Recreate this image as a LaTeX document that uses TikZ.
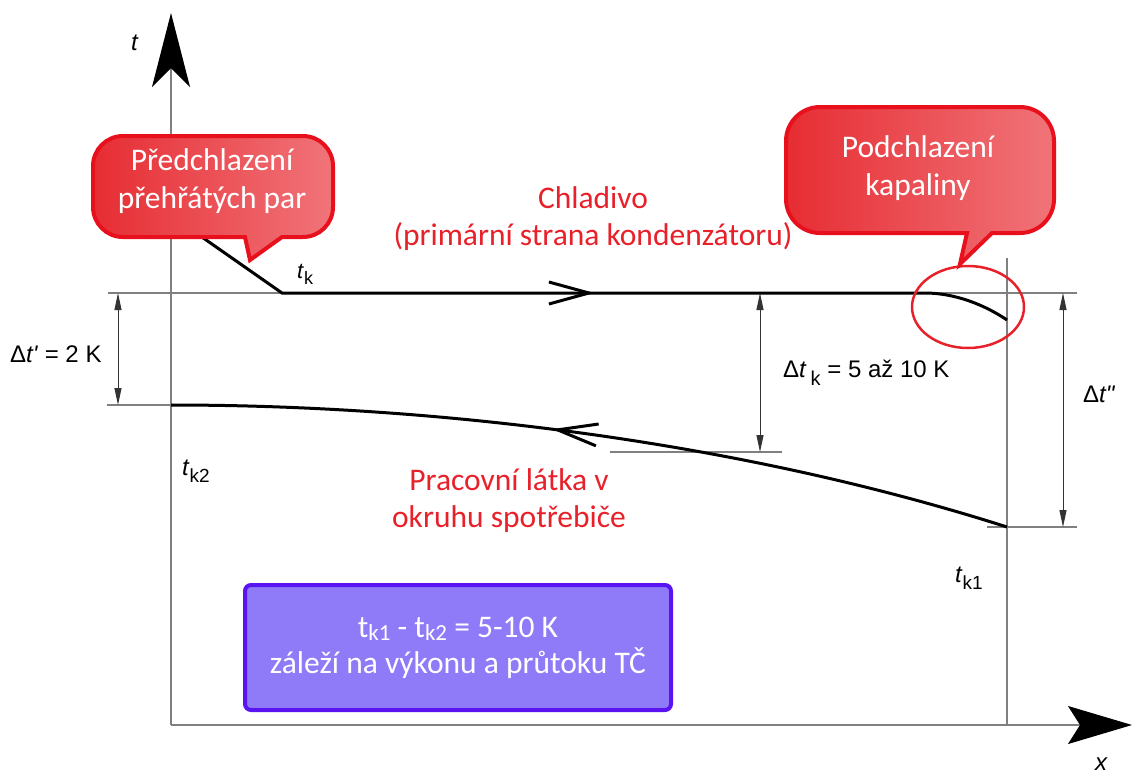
\documentclass[tikz,border=0pt]{standalone}
\usepackage{fontspec}
\setmainfont{Liberation Sans}
\newfontfamily\calfont{Carlito}
\usetikzlibrary{arrows.meta,decorations.markings}

\definecolor{guide}{HTML}{808080}
\definecolor{dimline}{HTML}{333333}
\definecolor{redtext}{HTML}{E8202A}
\definecolor{bubbleL}{HTML}{E62D33}
\definecolor{bubbleR}{HTML}{F07479}
\definecolor{bubbleEdge}{HTML}{E8101C}
\definecolor{noteFill}{HTML}{8F7BF8}
\definecolor{noteEdge}{HTML}{5A14F2}

% lowered, smaller subscript: #1 drop, #2 size, #3 text
\newcommand\subtxt[3]{\raisebox{-#1}{\fontsize{#2}{#2}\selectfont #3}}

\begin{document}
\begin{tikzpicture}[x=1pt,y=-1pt,
  guideline/.style={draw=guide,line width=1.2pt},
  curve/.style={draw=black,line width=3pt},
  dimarrow/.style={draw=dimline,line width=1pt,
    {Triangle[length=17pt,width=7pt]}-{Triangle[length=17pt,width=7pt]}},
  lbl/.style={inner sep=0pt,text=black},
  redlbl/.style={inner sep=0pt,text=redtext,align=center,
    font=\calfont\fontsize{31.5}{37}\selectfont},
  bubble/.style={draw=bubbleEdge,line width=4pt,left color=bubbleL,right color=bubbleR},
  bubbletext/.style={inner sep=0pt,text=white,align=center,
    font=\calfont\fontsize{31.5}{38}\selectfont},
  notebox/.style={draw=noteEdge,line width=4pt,fill=noteFill,rounded corners=6pt,
    minimum width=426pt,minimum height=125pt,inner sep=0pt,text=white,align=center,
    font=\calfont\fontsize{31.5}{36}\selectfont},
  openhead/.tip={Straight Barb[length=40pt,width=22pt]}
]
\useasboundingbox (0,0) rectangle (1132,774);

% axes
\coordinate (O) at (171,725);
\coordinate (ytip) at (171,13);
\coordinate (xtip) at (1132,725);
\draw[guideline,-{Stealth[length=74pt,width=38pt,inset=19pt,color=black]}] (O) -- (ytip);
\draw[guideline,-{Stealth[length=64pt,width=38pt,inset=12pt,color=black]}] (O) -- (xtip);
\node[lbl,anchor=base west,font=\fontsize{24}{28}\selectfont\itshape] (tax) at (131,50) {t};
\node[lbl,anchor=base,font=\fontsize{24}{28}\selectfont\itshape] (xax) at (1101,770) {x};

% guide lines
\coordinate (gTopL) at (108,293);
\coordinate (gTopR) at (1077,293);
\coordinate (gLowL) at (107,405);
\coordinate (gLowR) at (171,405);
\coordinate (gMidL) at (610,452);
\coordinate (gMidR) at (782,452);
\coordinate (gEndL) at (987,527);
\coordinate (gEndR) at (1077,527);
\coordinate (vTop) at (1007,258);
\coordinate (vBot) at (1007,725);
\draw[guideline] (gTopL) -- (gTopR);
\draw[guideline] (gLowL) -- (gLowR);
\draw[guideline] (gMidL) -- (gMidR);
\draw[guideline] (gEndL) -- (gEndR);
\draw[guideline] (vTop) -- (vBot);

% dimension arrows
\coordinate (d1a) at (118,293);
\coordinate (d1b) at (118,405);
\coordinate (d2a) at (760,293);
\coordinate (d2b) at (760,452);
\coordinate (d3a) at (1063,293);
\coordinate (d3b) at (1063,527);
\draw[dimarrow] (d1a) -- (d1b);
\draw[dimarrow] (d2a) -- (d2b);
\draw[dimarrow] (d3a) -- (d3b);

% refrigerant line
\coordinate (rStart) at (189,228);
\coordinate (rKnee) at (282,293);
\coordinate (rFlatEnd) at (925,293);
\coordinate (rEnd) at (1007,320);
\draw[curve,postaction={decorate},decoration={markings,
    mark=at position 426pt with {\arrow{openhead}}}]
  (rStart) -- (rKnee) -- (rFlatEnd) .. controls (955,293) and (985,305) .. (rEnd);

% consumer-side medium
\coordinate (wStart) at (171,405);
\coordinate (wEnd) at (1007,527);
\draw[curve,postaction={decorate},decoration={markings,
    mark=at position 382pt with {\arrowreversed{openhead}}}]
  (wStart) .. controls (450,405) and (750,445) .. (wEnd);

% subcooling region
\draw[draw=redtext,line width=2.5pt] (968,307) ellipse [x radius=56, y radius=41];

% callouts
\path[bubble] (245,237) -- (250,260) -- (282,237) -- (295,237)
  [rounded corners=30pt] -- (333,237) -- (333,136) -- (93,136) -- (93,237) -- (190,237)
  [sharp corners] -- (200,237) -- cycle;
\node[bubbletext,anchor=base] (pre) at (212,208) {Předchlazení\\přehřátých par};

\path[bubble] (967,233) -- (960,264) -- (992,233) -- (1005,233)
  [rounded corners=34pt] -- (1054,233) -- (1054,107) -- (786,107) -- (786,233) -- (925,233)
  [sharp corners] -- (935,233) -- cycle;
\node[bubbletext,anchor=base] (sub) at (918,195) {Podchlazení\\kapaliny};

% red captions
\node[redlbl,anchor=base] (chl) at (593,245) {Chladivo\\(primární strana kondenzátoru)};
\node[redlbl,anchor=base] (prac) at (509,527) {Pracovní látka v\\okruhu spotřebiče};

% temperature labels
\node[lbl,anchor=base west,font=\fontsize{22}{26}\selectfont] (tk) at (297,278)
  {\textit{t}\subtxt{0.3em}{18}{k}};
\node[lbl,anchor=base west,font=\fontsize{24}{28}\selectfont] (tk2) at (182,475)
  {\textit{t}\subtxt{0.3em}{19}{k2}};
\node[lbl,anchor=base west,font=\fontsize{24}{28}\selectfont] (tk1) at (955,582)
  {\textit{t}\subtxt{0.3em}{19}{k1}};
\node[lbl,anchor=base west,font=\fontsize{24}{28}\selectfont] (dt1) at (10,362)
  {Δ\textit{t\textquotesingle} = 2 K};
\node[lbl,anchor=base west,font=\fontsize{24}{28}\selectfont] (dtk) at (783,377)
  {Δ\textit{t}\,\subtxt{0.35em}{20}{k} = 5 až 10 K};
\node[lbl,anchor=base west,font=\fontsize{24}{28}\selectfont] (dt2) at (1083,402)
  {Δ\textit{t\textquotedbl}};

% note box
\node[notebox] (note) at (458,647.5)
  {t\subtxt{0.12em}{23}{k1} - t\subtxt{0.12em}{23}{k2} = 5-10 K\\záleží na výkonu a průtoku TČ};
\end{tikzpicture}
\end{document}
